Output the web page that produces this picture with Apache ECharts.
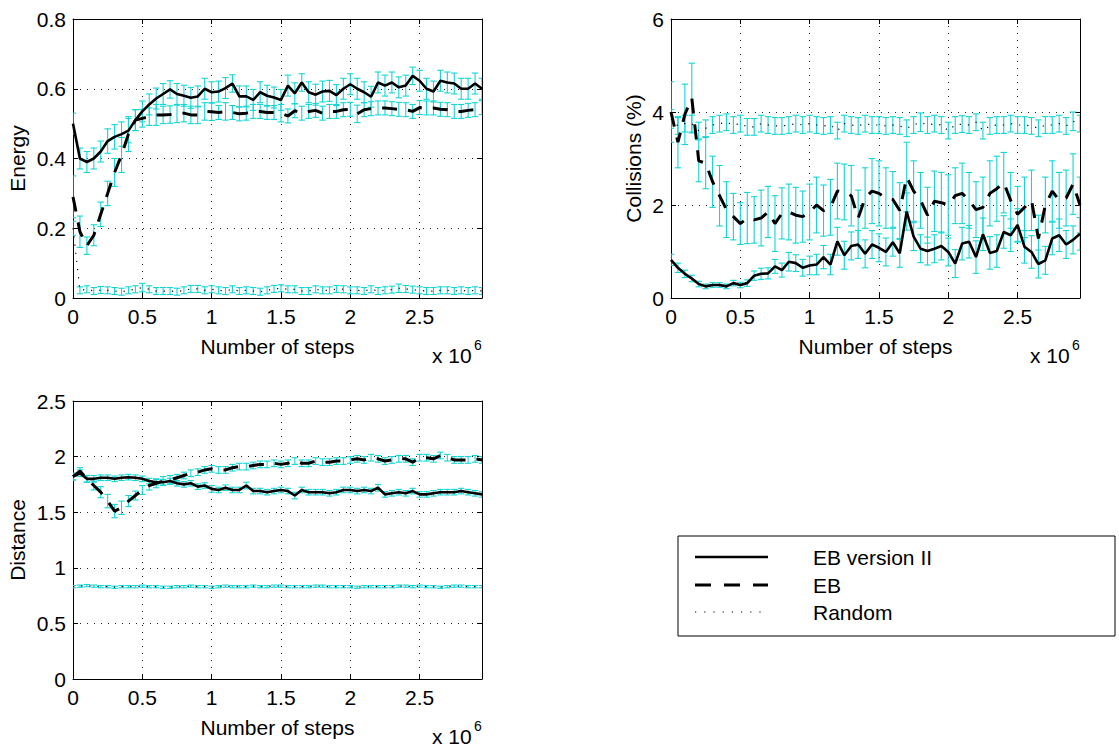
<!DOCTYPE html>
<html><head><meta charset="utf-8">
<script src="https://cdn.jsdelivr.net/npm/echarts@6/dist/echarts.min.js"></script>
<style>html,body{margin:0;padding:0;background:#fff}#c{width:1119px;height:751px}</style>
</head><body><div id="c"></div><script>
// x positions, in units of 10^6 steps
const steps = [0,0.05,0.1,0.15,0.2,0.25,0.3,0.35,0.4,0.45,0.5,0.55,0.6,0.65,0.7,0.75,0.8,0.85,0.9,0.95,1,1.05,1.1,1.15,1.2,1.25,1.3,1.35,1.4,1.45,1.5,1.55,1.6,1.65,1.7,1.75,1.8,1.85,1.9,1.95,2,2.05,2.1,2.15,2.2,2.25,2.3,2.35,2.4,2.45,2.5,2.55,2.6,2.65,2.7,2.75,2.8,2.85,2.9,2.95];
const xTicks = [0,0.5,1,1.5,2,2.5];

// Energy
const energyV2 = [.50,.40,.39,.40,.42,.45,.462,.47,.48,.51,.535,.555,.572,.585,.598,.585,.58,.574,.578,.60,.59,.592,.602,.615,.578,.578,.568,.59,.58,.575,.568,.609,.587,.618,.59,.583,.592,.594,.582,.60,.613,.60,.59,.577,.618,.609,.618,.604,.609,.637,.623,.60,.592,.623,.618,.615,.60,.60,.615,.60];
const energyV2Err = [.03,.03,.03,.03,.03,.035,.035,.035,.035,.03,.03,.03,.03,.03,.025,.03,.03,.03,.03,.03,.03,.03,.03,.025,.03,.03,.03,.03,.03,.03,.03,.03,.03,.025,.03,.03,.03,.03,.03,.03,.03,.03,.03,.03,.03,.03,.03,.03,.03,.025,.03,.03,.03,.03,.03,.03,.03,.03,.03,.03];
const energyEB = [.29,.19,.15,.18,.24,.30,.36,.41,.47,.51,.515,.52,.525,.525,.526,.528,.53,.525,.525,.535,.534,.532,.535,.532,.528,.53,.535,.535,.532,.532,.53,.522,.537,.53,.535,.538,.53,.535,.535,.54,.541,.528,.54,.543,.545,.545,.543,.541,.54,.535,.546,.545,.545,.541,.54,.535,.535,.538,.54,.546];
const energyEBErr = [.06,.045,.025,.03,.035,.035,.04,.05,.05,.03,.025,.025,.03,.025,.025,.025,.025,.025,.025,.025,.025,.02,.025,.02,.02,.02,.02,.02,.02,.02,.025,.02,.02,.02,.02,.02,.02,.02,.02,.02,.02,.025,.02,.02,.02,.02,.02,.02,.02,.02,.02,.02,.02,.02,.02,.02,.02,.02,.02,.02];
const energyRand = [.20,.022,.025,.02,.023,.022,.02,.018,.022,.025,.03,.025,.02,.02,.02,.018,.022,.026,.026,.022,.025,.022,.02,.025,.02,.022,.02,.018,.022,.026,.028,.025,.025,.02,.02,.025,.022,.022,.026,.025,.022,.022,.02,.025,.02,.022,.024,.028,.026,.024,.022,.02,.02,.022,.022,.02,.022,.02,.022,.02];
const energyRandErr = [.02,.01,.01,.01,.01,.01,.01,.01,.01,.01,.012,.01,.01,.01,.01,.01,.01,.01,.01,.01,.01,.01,.01,.01,.01,.01,.01,.01,.01,.01,.01,.01,.01,.01,.01,.01,.01,.01,.01,.01,.01,.01,.01,.01,.01,.01,.01,.012,.01,.01,.01,.01,.01,.01,.01,.01,.01,.01,.01,.01];

// Collisions (%)
const colV2 = [.82,.65,.52,.42,.30,.25,.28,.28,.25,.32,.28,.32,.48,.52,.53,.68,.60,.78,.75,.65,.70,.72,.88,.72,1.22,.92,1.12,1.15,.95,1.15,1.08,.99,1.2,.96,1.86,1.32,1.06,1.01,1.06,1.12,.99,.74,1.17,1.21,.88,1.37,.97,1.01,1.42,1.35,1.57,1.1,.99,.73,.81,1.28,1.35,1.15,1.25,1.38];
const colV2Err = [.12,.1,.08,.07,.06,.05,.05,.05,.05,.06,.06,.07,.1,.12,.12,.15,.15,.2,.18,.18,.2,.22,.25,.22,.3,.3,.3,.3,.3,.3,.3,.3,.3,.3,.4,.3,.3,.3,.3,.3,.3,.3,.35,.35,.35,.35,.35,.35,.35,.35,.35,.35,.35,.3,.3,.35,.35,.3,.3,.35];
const colEB = [4.0,3.35,3.95,4.3,2.95,2.9,2.5,2.2,1.9,1.75,1.6,1.72,1.68,1.72,1.85,1.6,1.82,1.85,1.78,1.75,1.85,2.0,1.88,1.95,2.3,2.28,2.2,1.72,2.15,2.3,2.25,2.15,2.12,1.88,2.6,2.3,2.1,1.78,2.08,2.05,2.0,2.2,2.25,2.1,1.9,1.95,2.25,2.35,2.48,2.1,1.8,1.95,2.1,1.28,2.0,2.3,2.1,2.15,2.45,2.0];
const colEBErr = [.65,.55,.65,.75,.45,.55,.55,.65,.6,.5,.45,.55,.5,.6,.55,.6,.55,.6,.6,.55,.6,.6,.55,.6,.6,.6,.65,.6,.65,.7,.7,.65,.6,.6,.75,.65,.6,.6,.65,.65,.65,.6,.65,.6,.6,.65,.7,.7,.65,.6,.6,.65,.65,.5,.6,.65,.6,.6,.65,.6];
const colRand = [3.85,3.7,3.75,3.75,3.6,3.65,3.72,3.75,3.78,3.72,3.75,3.68,3.68,3.75,3.72,3.7,3.7,3.72,3.75,3.72,3.75,3.72,3.7,3.72,3.6,3.75,3.72,3.7,3.75,3.72,3.72,3.7,3.72,3.7,3.65,3.72,3.78,3.72,3.75,3.72,3.6,3.72,3.74,3.72,3.78,3.6,3.7,3.72,3.72,3.75,3.72,3.72,3.7,3.65,3.72,3.72,3.75,3.7,3.8,3.75];
const colRandErr = [.2,.18,.18,.18,.18,.18,.18,.18,.18,.18,.18,.18,.18,.18,.18,.18,.18,.18,.18,.18,.18,.18,.18,.18,.18,.18,.18,.18,.18,.18,.18,.18,.18,.18,.18,.18,.2,.18,.18,.18,.18,.18,.18,.18,.18,.18,.18,.18,.18,.18,.18,.18,.18,.18,.18,.18,.18,.18,.2,.18];

// Distance
const distV2 = [1.82,1.85,1.80,1.80,1.81,1.81,1.80,1.81,1.815,1.81,1.80,1.78,1.77,1.77,1.78,1.76,1.75,1.76,1.73,1.74,1.71,1.70,1.72,1.70,1.70,1.74,1.69,1.69,1.68,1.69,1.70,1.69,1.65,1.70,1.68,1.68,1.68,1.67,1.68,1.70,1.70,1.69,1.70,1.69,1.72,1.66,1.67,1.68,1.67,1.69,1.66,1.66,1.67,1.68,1.68,1.68,1.69,1.68,1.67,1.66];
const distV2Err = [.03,.03,.03,.03,.025,.025,.025,.025,.025,.025,.025,.025,.025,.025,.025,.025,.025,.025,.025,.025,.03,.025,.025,.025,.025,.03,.025,.025,.025,.025,.025,.025,.03,.025,.025,.025,.025,.025,.025,.025,.025,.025,.025,.025,.03,.025,.025,.025,.025,.025,.025,.025,.025,.025,.025,.025,.025,.025,.025,.025];
const distEB = [1.82,1.87,1.80,1.74,1.68,1.60,1.51,1.54,1.60,1.65,1.70,1.74,1.76,1.78,1.79,1.81,1.83,1.85,1.86,1.88,1.89,1.88,1.88,1.90,1.91,1.91,1.92,1.93,1.93,1.94,1.93,1.94,1.96,1.94,1.94,1.96,1.95,1.95,1.96,1.96,1.97,1.98,1.97,1.99,1.98,1.96,1.97,1.98,1.98,1.95,1.99,1.99,1.98,2.01,1.99,1.97,1.97,1.97,1.98,1.97];
const distEBErr = [.03,.03,.03,.04,.05,.06,.06,.06,.05,.04,.04,.04,.04,.04,.04,.03,.03,.03,.03,.03,.03,.03,.03,.03,.03,.03,.03,.03,.03,.03,.03,.03,.03,.03,.03,.03,.03,.03,.03,.03,.03,.03,.03,.03,.03,.03,.03,.03,.03,.03,.03,.03,.03,.03,.03,.03,.03,.03,.03,.03];
const distRand = [.83,.835,.84,.835,.83,.83,.825,.83,.83,.83,.835,.83,.83,.825,.825,.83,.83,.835,.83,.83,.825,.83,.835,.83,.83,.83,.835,.83,.83,.835,.835,.83,.83,.83,.83,.835,.835,.83,.83,.83,.83,.825,.83,.83,.83,.83,.83,.835,.835,.83,.835,.83,.83,.825,.83,.835,.835,.83,.83,.83];
const distRandErr = [.01,.01,.01,.01,.01,.01,.01,.01,.01,.01,.01,.01,.01,.01,.01,.01,.01,.01,.01,.01,.01,.01,.01,.01,.01,.01,.01,.01,.01,.01,.01,.01,.01,.01,.01,.01,.01,.01,.01,.01,.01,.01,.01,.01,.01,.01,.01,.01,.01,.01,.01,.01,.01,.01,.01,.01,.01,.01,.01,.01];

const legendNames = ['EB version II','EB','Random'];

const FONT = "'Liberation Sans', Arial, Helvetica, sans-serif";
const FS = 21;
const CYAN = '#12d6d6';
const DASH = [15, 11];
const DOT = [1.2, 7];

const grids = [
  {left:73, top:19, width:409, height:279},
  {left:671, top:19, width:409, height:279},
  {left:73, top:401, width:409, height:278}
];
const yCfg = [
  {max:0.8, interval:0.2, name:'Energy', gap:45},
  {max:6, interval:2, name:'Collisions (%)', gap:27},
  {max:2.5, interval:0.5, name:'Distance', gap:45}
];

const xAxes = [], yAxes = [];
grids.forEach((g, i) => {
  const common = {type:'value', gridIndex:i, min:0, max:steps[steps.length-1], interval:0.5,
    axisLine:{show:true, onZero:false, lineStyle:{color:'#000', width:1}},
    axisTick:{show:true, inside:true, length:5, lineStyle:{color:'#000'}}};
  xAxes.push(Object.assign({}, common, {position:'bottom',
    name:'Number of steps', nameLocation:'middle', nameGap:38,
    nameTextStyle:{fontFamily:FONT, fontSize:FS, color:'#000'},
    axisLabel:{show:true, margin:8, fontFamily:FONT, fontSize:FS, color:'#000', showMaxLabel:false,
      formatter: v => xTicks.some(t => Math.abs(t - v) < 1e-9) ? String(v) : ''},
    splitLine:{show:true, lineStyle:{color:'#222', width:1, type:[1,6]}}}));
  xAxes.push(Object.assign({}, common, {position:'top', axisLabel:{show:false}, splitLine:{show:false}}));
  const yc = yCfg[i];
  const ycommon = {type:'value', gridIndex:i, min:0, max:yc.max, interval:yc.interval,
    axisLine:{show:true, onZero:false, lineStyle:{color:'#000', width:1}},
    axisTick:{show:true, inside:true, length:5, lineStyle:{color:'#000'}}};
  yAxes.push(Object.assign({}, ycommon, {position:'left',
    name:yc.name, nameLocation:'middle', nameGap:yc.gap,
    nameTextStyle:{fontFamily:FONT, fontSize:FS, color:'#000'},
    axisLabel:{show:true, margin:7, fontFamily:FONT, fontSize:FS, color:'#000'},
    splitLine:{show:true, lineStyle:{color:'#222', width:1, type:[1,6]}}}));
  yAxes.push(Object.assign({}, ycommon, {position:'right', axisLabel:{show:false}, splitLine:{show:false}}));
});

function errSeries(gi, vals, errs) {
  return {type:'custom', xAxisIndex:gi*2, yAxisIndex:gi*2, z:2, silent:true, clip:true,
    data: steps.map((s, i) => [s, vals[i] - errs[i], vals[i] + errs[i]]),
    encode:{x:0, y:[1,2]},
    renderItem: (params, api) => {
      const x = api.value(0);
      const lo = api.coord([x, api.value(1)]);
      const hi = api.coord([x, api.value(2)]);
      const w = 3.2;
      const st = {stroke:CYAN, lineWidth:1.1, fill:null};
      return {type:'group', children:[
        {type:'line', shape:{x1:lo[0], y1:lo[1], x2:hi[0], y2:hi[1]}, style:st},
        {type:'line', shape:{x1:lo[0]-w, y1:lo[1], x2:lo[0]+w, y2:lo[1]}, style:st},
        {type:'line', shape:{x1:hi[0]-w, y1:hi[1], x2:hi[0]+w, y2:hi[1]}, style:st}
      ]};
    }};
}
function lineSeries(gi, name, vals, kind) {
  const ls = kind === 0 ? {color:'#000', width:2.6, type:'solid'}
    : kind === 1 ? {color:'#000', width:3, type:DASH, cap:'butt'}
    : {color:'#000', width:1.2, type:DOT, cap:'butt'};
  return {type:'line', name, xAxisIndex:gi*2, yAxisIndex:gi*2, z:3, silent:true,
    showSymbol:false, symbol:'none', animation:false, lineStyle:ls,
    data: steps.map((s, i) => [s, vals[i]])};
}

const plotData = [
  [[energyV2, energyV2Err], [energyEB, energyEBErr], [energyRand, energyRandErr]],
  [[colV2, colV2Err], [colEB, colEBErr], [colRand, colRandErr]],
  [[distV2, distV2Err], [distEB, distEBErr], [distRand, distRandErr]]
];
const series = [];
plotData.forEach((sets, gi) => {
  sets.forEach(([v, e]) => series.push(errSeries(gi, v, e)));
  sets.forEach(([v], k) => series.push(lineSeries(gi, legendNames[k], v, k)));
});

// "x 10^6" labels and legend box
const graphic = [];
grids.forEach(g => {
  const by = g.top + g.height;
  const rx = g.left + g.width;
  graphic.push({type:'text', left:rx - 50, top:by + 47, silent:true,
    style:{text:'x 10', fontFamily:FONT, fontSize:FS, fill:'#000'}});
  graphic.push({type:'text', left:rx - 8, top:by + 40, silent:true,
    style:{text:'6', fontFamily:FONT, fontSize:14, fill:'#000'}});
});
const LG = {x:678, y:536, w:437, h:100};
graphic.push({type:'rect', shape:{x:LG.x, y:LG.y, width:LG.w, height:LG.h},
  style:{fill:'#fff', stroke:'#000', lineWidth:1}, silent:true, z:10});
const legY = [557, 585, 612];
const legStyles = [
  {stroke:'#000', lineWidth:2.6},
  {stroke:'#000', lineWidth:3, lineDash:[16,13]},
  {stroke:'#000', lineWidth:1.2, lineDash:[1.2,8]}
];
legendNames.forEach((n, k) => {
  graphic.push({type:'line', shape:{x1:695, y1:legY[k], x2:768, y2:legY[k]}, style:legStyles[k], silent:true, z:11});
  graphic.push({type:'text', x:813, y:legY[k], silent:true, z:11,
    style:{text:n, fontFamily:FONT, fontSize:FS, fill:'#000', verticalAlign:'middle', align:'left'}});
});

const chart = echarts.init(document.getElementById('c'), null, {renderer:'svg', width:1119, height:751});
chart.setOption({
  animation:false,
  backgroundColor:'#fff',
  grid: grids.map(g => Object.assign({containLabel:false}, g)),
  xAxis: xAxes,
  yAxis: yAxes,
  series,
  graphic
});
</script></body></html>
